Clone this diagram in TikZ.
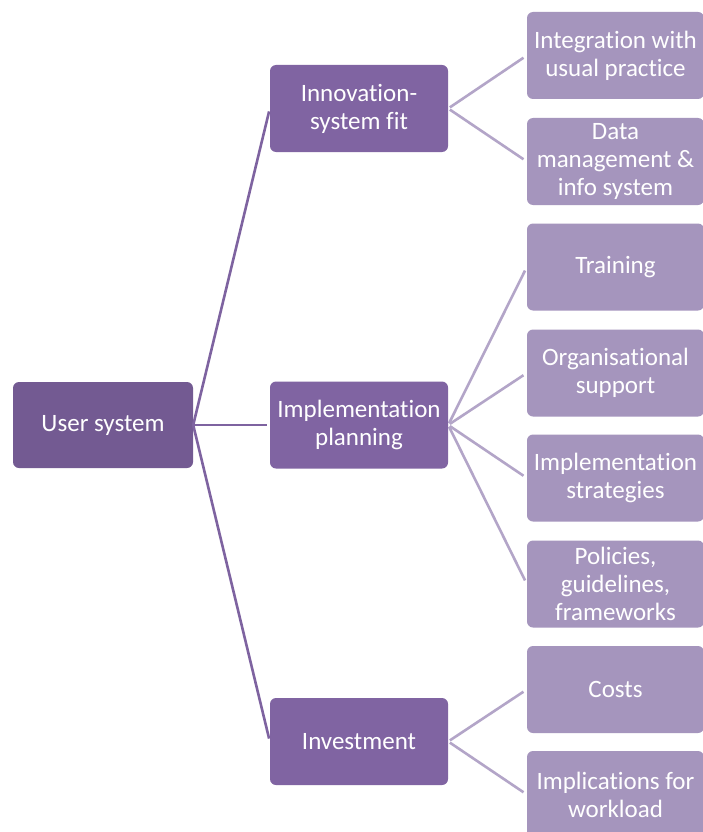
\documentclass[tikz,border=0pt]{standalone}
\usepackage{fontspec}
\setmainfont[Ligatures=CommonOff]{Carlito}
\definecolor{lvlA}{HTML}{735A92}
\definecolor{lvlB}{HTML}{8064A2}
\definecolor{lvlC}{HTML}{A595BD}
\definecolor{lineA}{HTML}{7E63A0}
\definecolor{lineB}{HTML}{B3A5C8}
\begin{document}
\begin{tikzpicture}[x=1pt,y=-1pt,
  box/.style={rectangle, rounded corners=6pt, draw=none, text=white, align=center,
    font=\fontsize{25}{28}\selectfont, inner sep=0pt},
  boxA/.style={box, fill=lvlA, minimum width=180, minimum height=86},
  boxB/.style={box, fill=lvlB, minimum width=178, minimum height=87},
  boxC/.style={box, fill=lvlC, minimum width=177, minimum height=87},
  connA/.style={draw=lineA, line width=2.6pt, shorten >=3pt},
  connB/.style={draw=lineB, line width=2.6pt, shorten >=4pt, shorten <=2pt}]
\useasboundingbox (0,0) rectangle (702,832);
\fill[white] (0,0) rectangle (702,832);
% level 1
\node[boxA] (us) at (103,425) {User system};
% level 2
\node[boxB] (isf) at (359,108.5) {Innovation-\\system fit};
\node[boxB] (ip) at (359,425) {Implementation\\planning};
\node[boxB] (inv) at (359,741.5) {Investment};
% level 3
\node[boxC] (c1) at (615.5,55.5) {Integration with\\usual practice};
\node[boxC] (c2) at (615.5,161.5) {Data\\management \&\\info system};
\node[boxC] (c3) at (615.5,267) {Training};
\node[boxC] (c4) at (615.5,373) {Organisational\\support};
\node[boxC] (c5) at (615.5,478) {Implementation\\strategies};
\node[boxC] (c6) at (615.5,584) {Policies,\\guidelines,\\frameworks};
\node[boxC] (c7) at (615.5,689.5) {Costs};
\node[boxC] (c8) at (615.5,794.5) {Implications for\\workload};
% connectors
\draw[connA] (us.east) -- (isf.west);
\draw[connA] (us.east) -- (ip.west);
\draw[connA] (us.east) -- (inv.west);
\draw[connB] (isf.east) -- (c1.west);
\draw[connB] (isf.east) -- (c2.west);
\draw[connB] (ip.east) -- (c3.west);
\draw[connB] (ip.east) -- (c4.west);
\draw[connB] (ip.east) -- (c5.west);
\draw[connB] (ip.east) -- (c6.west);
\draw[connB] (inv.east) -- (c7.west);
\draw[connB] (inv.east) -- (c8.west);
\end{tikzpicture}
\end{document}
